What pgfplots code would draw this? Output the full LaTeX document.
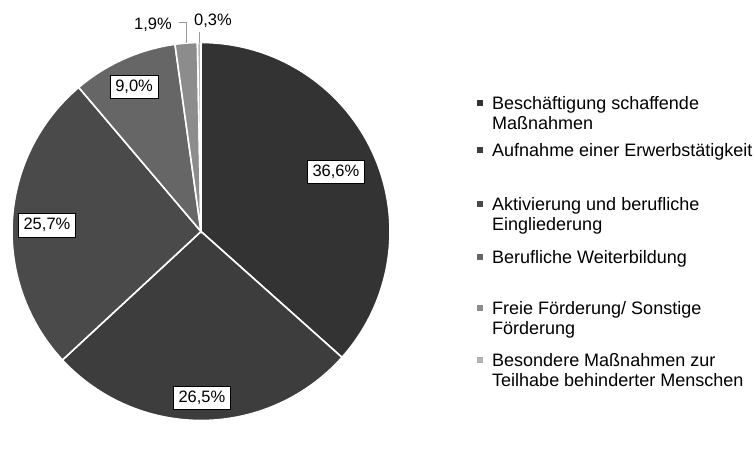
\documentclass[border=0pt]{standalone}
\usepackage{pgfplots}
\pgfplotsset{compat=1.18}
\usepackage{pgfplotstable}
\usepackage{fontspec}
\setmainfont{Liberation Sans}
\definecolor{c1}{HTML}{333333}
\definecolor{c2}{HTML}{3D3D3D}
\definecolor{c3}{HTML}{4A4A4A}
\definecolor{c4}{HTML}{666666}
\definecolor{c5}{HTML}{8C8C8C}
\definecolor{c6}{HTML}{B4B4B4}
\pgfplotstableread{
idx value
0 36.6
1 26.5
2 25.7
3 9.0
4 1.9
5 0.3
}\piedata
\begin{document}%
\begin{tikzpicture}
\pgfplotstablegetelem{0}{value}\of\piedata \let\vA\pgfplotsretval
\pgfplotstablegetelem{1}{value}\of\piedata \let\vB\pgfplotsretval
\pgfplotstablegetelem{2}{value}\of\piedata \let\vC\pgfplotsretval
\pgfplotstablegetelem{3}{value}\of\piedata \let\vD\pgfplotsretval
\pgfplotstablegetelem{4}{value}\of\piedata \let\vE\pgfplotsretval
\pgfplotstablegetelem{5}{value}\of\piedata \let\vF\pgfplotsretval
\pgfmathsetmacro\aA{90}
\pgfmathsetmacro\aB{\aA-3.6*\vA}
\pgfmathsetmacro\aC{\aB-3.6*\vB}
\pgfmathsetmacro\aD{\aC-3.6*\vC}
\pgfmathsetmacro\aE{\aD-3.6*\vD}
\pgfmathsetmacro\aF{\aE-3.6*\vE}
\pgfmathsetmacro\aG{\aF-3.6*\vF}
\path[use as bounding box] (-12bp,-36.5bp) rectangle (744bp,420.5bp);
\begin{axis}[
  at={(0,0)}, anchor=south west,
  scale only axis, width=378bp, height=378bp,
  xmin=-1, xmax=1, ymin=-1, ymax=1,
  hide axis, clip=false,
  legend image code/.code={\fill[#1,draw=none] (0bp,3.5bp) rectangle (6.5bp,10bp);},
  legend style={draw=none, fill=none, inner sep=0pt, outer sep=0pt,
    at={(1.2294,0.8638)}, anchor=north west,
    row sep=0pt, column sep=7bp,
    cells={anchor=base west, inner sep=0pt},
    font=\fontsize{18bp}{20bp}\selectfont},
  slice/.style={draw=white, line width=1.6bp, samples=90, variable=\t},
]
\addplot[slice, fill=c1, domain=\aB:\aA] ({cos(\t)},{sin(\t)}) -- (axis cs:0,0) -- cycle;
\addlegendentry[text height=14bp, text depth=29bp]{\vtop{\baselineskip=20bp\hbox{\rule{0pt}{14bp}Beschäftigung schaffende}\hbox{\rule{0pt}{14bp}Maßnahmen}}}
\addplot[slice, fill=c2, domain=\aC:\aB] ({cos(\t)},{sin(\t)}) -- (axis cs:0,0) -- cycle;
\addlegendentry[text height=14bp, text depth=36bp]{Aufnahme einer Erwerbstätigkeit}
\addplot[slice, fill=c3, domain=\aD:\aC] ({cos(\t)},{sin(\t)}) -- (axis cs:0,0) -- cycle;
\addlegendentry[text height=14bp, text depth=34.7bp]{\vtop{\baselineskip=20bp\hbox{\rule{0pt}{14bp}Aktivierung und berufliche}\hbox{\rule{0pt}{14bp}Eingliederung}}}
\addplot[slice, fill=c4, domain=\aE:\aD] ({cos(\t)},{sin(\t)}) -- (axis cs:0,0) -- cycle;
\addlegendentry[text height=14bp, text depth=33bp]{Berufliche Weiterbildung}
\addplot[slice, fill=c5, domain=\aF:\aE] ({cos(\t)},{sin(\t)}) -- (axis cs:0,0) -- cycle;
\addlegendentry[text height=14bp, text depth=34.3bp]{\vtop{\baselineskip=20bp\hbox{\rule{0pt}{14bp}Freie Förderung/ Sonstige}\hbox{\rule{0pt}{14bp}Förderung}}}
\addplot[slice, fill=c6, domain=\aG:\aF] ({cos(\t)},{sin(\t)}) -- (axis cs:0,0) -- cycle;
\addlegendentry[text height=14bp, text depth=25bp]{\vtop{\baselineskip=20bp\hbox{\rule{0pt}{14bp}Besondere Maßnahmen zur}\hbox{\rule{0pt}{14bp}Teilhabe behinderter Menschen}}}
% leader lines
\addplot[forget plot, color=black!40, line width=1bp] coordinates {(-0.116,1.105) (-0.0757,1.105) (-0.0757,0.997)};
\addplot[forget plot, color=black!40, line width=1bp] coordinates {(-0.009,1.058) (-0.009,0.997)};
% labels
\tikzset{plab/.style={draw=black, fill=white, line width=0.6bp, inner xsep=5bp, inner ysep=0pt, minimum height=23.5bp, font=\fontsize{16.5bp}{18bp}\selectfont}}
\node[plab] at (axis cs:0.714,0.315) {36,6\%};
\node[plab] at (axis cs:0.005,-0.881) {26,5\%};
\node[plab] at (axis cs:-0.815,0.034) {25,7\%};
\node[plab] at (axis cs:-0.354,0.765) {9,0\%};
\node[font=\fontsize{16.5bp}{18bp}\selectfont] at (axis cs:-0.254,1.093) {1,9\%};
\node[font=\fontsize{16.5bp}{18bp}\selectfont] at (axis cs:0.063,1.114) {0,3\%};
\end{axis}
\end{tikzpicture}%
\end{document}
